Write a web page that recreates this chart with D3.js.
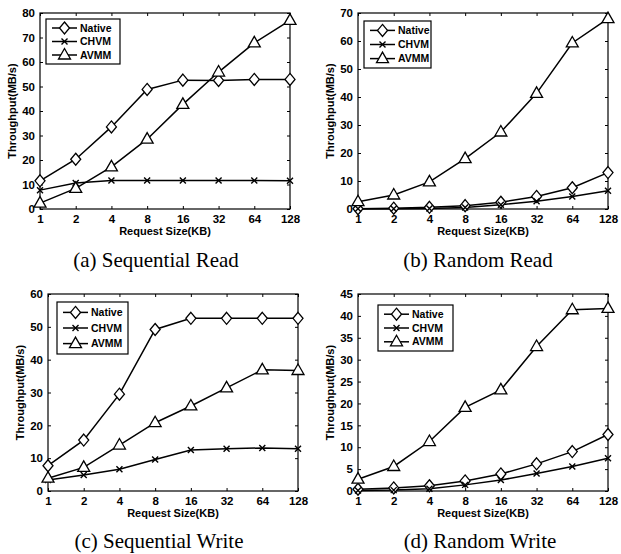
<!DOCTYPE html>
<html><head><meta charset="utf-8">
<script src="https://cdn.jsdelivr.net/npm/d3@7/dist/d3.min.js"></script>
<style>body{margin:0;background:#fff}svg{display:block}</style>
</head><body>
<svg id="c" width="621" height="554"></svg>
<script>
// ---- data ----
const sizes = [1, 2, 4, 8, 16, 32, 64, 128];
const sizeLabels = ["1", "2", "4", "8", "16", "32", "64", "128"];
const seriesNames = ["Native", "CHVM", "AVMM"];

const seqReadNative = [11.5, 20.3, 33.5, 48.8, 52.6, 52.5, 52.9, 52.9];
const seqReadCHVM   = [7.7, 10.6, 11.6, 11.6, 11.6, 11.6, 11.6, 11.5];
const seqReadAVMM   = [2.4, 8.4, 17.2, 28.5, 42.7, 55.9, 67.8, 77.0];

const randReadNative = [0.1, 0.3, 0.6, 1.2, 2.4, 4.5, 7.6, 13.0];
const randReadCHVM   = [0.05, 0.1, 0.2, 0.5, 1.5, 2.8, 4.5, 6.5];
const randReadAVMM   = [2.6, 5.0, 9.7, 18.0, 27.5, 41.3, 59.3, 68.0];

const seqWriteNative = [7.7, 15.5, 29.5, 49.2, 52.6, 52.6, 52.6, 52.6];
const seqWriteCHVM   = [3.35, 4.9, 6.6, 9.6, 12.5, 12.9, 13.1, 12.9];
const seqWriteAVMM   = [3.9, 7.2, 14.0, 20.8, 25.9, 31.4, 36.9, 36.7];

const randWriteNative = [0.4, 0.7, 1.2, 2.3, 3.9, 6.2, 9.0, 12.9];
const randWriteCHVM   = [0.1, 0.2, 0.5, 1.4, 2.5, 4.0, 5.6, 7.5];
const randWriteAVMM   = [2.7, 5.6, 11.3, 19.1, 23.1, 33.0, 41.4, 41.7];

const yTicksA = [0, 10, 20, 30, 40, 50, 60, 70, 80];
const yTicksB = [0, 10, 20, 30, 40, 50, 60, 70];
const yTicksC = [0, 10, 20, 30, 40, 50, 60];
const yTicksD = [0, 5, 10, 15, 20, 25, 30, 35, 40, 45];

const captions = ["(a) Sequential Read", "(b) Random Read", "(c) Sequential Write", "(d) Random Write"];

// ---- layout ----
const panels = [
  {series: [seqReadNative, seqReadCHVM, seqReadAVMM], yTicks: yTicksA, box: [40, 290, 13, 209], leg: [46, 19, 74, 45], cap: [156, 267]},
  {series: [randReadNative, randReadCHVM, randReadAVMM], yTicks: yTicksB, box: [358, 608, 13, 209], leg: [364, 21, 67, 47], cap: [478, 267]},
  {series: [seqWriteNative, seqWriteCHVM, seqWriteAVMM], yTicks: yTicksC, box: [48, 298, 294, 491], leg: [57, 302, 71, 52], cap: [159, 548]},
  {series: [randWriteNative, randWriteCHVM, randWriteAVMM], yTicks: yTicksD, box: [358, 608, 294, 491], leg: [378, 305, 75, 46], cap: [480, 548]}
];

const svg = d3.select("#c");
const axisFont = "'Liberation Sans', Arial, sans-serif";

function marker(g, type, x, y) {
  if (type === 0) {
    g.append("path").attr("d", `M${x},${y-6}L${x+5},${y}L${x},${y+6}L${x-5},${y}Z`)
      .attr("fill", "#fff").attr("stroke", "#000").attr("stroke-width", 1.3);
  } else if (type === 1) {
    g.append("path").attr("d", `M${x-3},${y-3}L${x+3},${y+3}M${x-3},${y+3}L${x+3},${y-3}`)
      .attr("fill", "none").attr("stroke", "#000").attr("stroke-width", 1.4);
  } else {
    g.append("path").attr("d", `M${x},${y-6.5}L${x+6},${y+4}L${x-6},${y+4}Z`)
      .attr("fill", "#fff").attr("stroke", "#000").attr("stroke-width", 1.3);
  }
}

panels.forEach((p, pi) => {
  const [x0, x1, y0, y1] = p.box;
  const yMax = p.yTicks[p.yTicks.length - 1];
  const x = d3.scaleLog().base(2).domain([1, 128]).range([x0, x1]);
  const y = d3.scaleLinear().domain([0, yMax]).range([y1, y0]);
  const g = svg.append("g");

  // box
  g.append("rect").attr("x", x0).attr("y", y0).attr("width", x1 - x0).attr("height", y1 - y0)
    .attr("fill", "none").attr("stroke", "#000").attr("stroke-width", 1.2);

  // axes (inward ticks)
  const ax = g.append("g").attr("transform", `translate(0,${y1})`)
    .call(d3.axisBottom(x).tickValues(sizes).tickFormat((d, i) => sizeLabels[i]).tickSizeInner(-3).tickSizeOuter(0).tickPadding(6));
  const axT = g.append("g").attr("transform", `translate(0,${y0})`)
    .call(d3.axisTop(x).tickValues(sizes).tickFormat("").tickSizeInner(-3).tickSizeOuter(0));
  const ay = g.append("g").attr("transform", `translate(${x0},0)`)
    .call(d3.axisLeft(y).tickValues(p.yTicks).tickSizeInner(-3).tickSizeOuter(0).tickPadding(5));
  const ayR = g.append("g").attr("transform", `translate(${x1},0)`)
    .call(d3.axisRight(y).tickValues(p.yTicks).tickFormat("").tickSizeInner(-3).tickSizeOuter(0));
  [ax, axT, ay, ayR].forEach(a => {
    a.select(".domain").remove();
    a.selectAll("line").attr("stroke", "#000").attr("stroke-width", 1);
    a.selectAll("text").attr("font-family", axisFont).attr("font-weight", "bold").attr("font-size", 11.5).attr("fill", "#000");
  });

  // axis titles
  g.append("text").attr("x", (x0 + x1) / 2).attr("y", y1 + 26).attr("text-anchor", "middle")
    .attr("font-family", axisFont).attr("font-weight", "bold").attr("font-size", 11).text("Request Size(KB)");
  g.append("text").attr("transform", `translate(${x0 - 24},${(y0 + y1) / 2}) rotate(-90)`).attr("text-anchor", "middle")
    .attr("font-family", axisFont).attr("font-weight", "bold").attr("font-size", 11).text("Throughput(MB/s)");

  // series
  const line = d3.line().x((d, i) => x(sizes[i])).y(d => y(d));
  p.series.forEach((vals, si) => {
    g.append("path").datum(vals).attr("d", line).attr("fill", "none").attr("stroke", "#000").attr("stroke-width", 1.5);
  });
  p.series.forEach((vals, si) => {
    vals.forEach((v, i) => marker(g, si, x(sizes[i]), y(v)));
  });

  // legend
  const [lx, ly, lw, lh] = p.leg;
  g.append("rect").attr("x", lx).attr("y", ly).attr("width", lw).attr("height", lh)
    .attr("fill", "#fff").attr("stroke", "#000").attr("stroke-width", 1.2);
  seriesNames.forEach((n, si) => {
    const ry = ly + lh * (0.2 + 0.3 * si);
    g.append("line").attr("x1", lx + 6).attr("x2", lx + 31).attr("y1", ry).attr("y2", ry)
      .attr("stroke", "#000").attr("stroke-width", 1.5);
    marker(g, si, lx + 18.5, ry);
    g.append("text").attr("x", lx + 34).attr("y", ry).attr("dy", "0.35em")
      .attr("font-family", axisFont).attr("font-weight", "bold").attr("font-size", 10.5).text(n);
  });

  // caption
  svg.append("text").attr("x", p.cap[0]).attr("y", p.cap[1]).attr("text-anchor", "middle")
    .attr("font-family", "'Liberation Serif', 'Times New Roman', serif").attr("font-size", 21).text(captions[pi]);
});
</script>
</body></html>
